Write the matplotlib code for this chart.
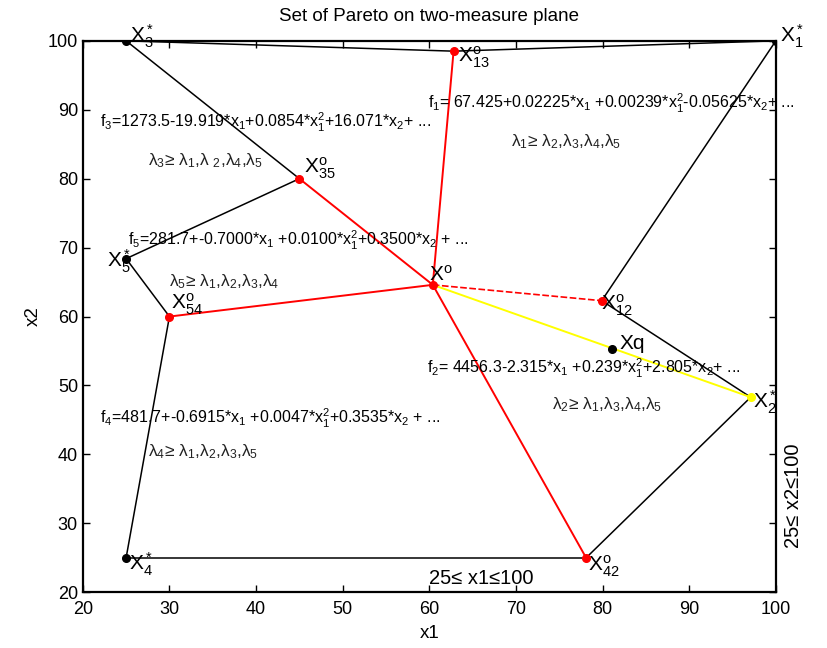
import numpy as np
import matplotlib
matplotlib.use('Agg')
import matplotlib.pyplot as plt

plt.rcParams['font.family'] = ['Liberation Sans', 'DejaVu Sans']
plt.rcParams['mathtext.fontset'] = 'custom'
plt.rcParams['mathtext.rm'] = 'Liberation Sans'
plt.rcParams['mathtext.it'] = 'Liberation Sans'
plt.rcParams['mathtext.default'] = 'regular'

# points
names = ['X3*', 'X13o', 'X1*', 'X35o', 'Xo', 'X5*', 'X54o', 'X12o', 'Xq', 'X2*', 'X4*', 'X42o']
px = [25, 62.8, 100, 45, 60.4, 25, 30, 79.9, 81.1, 97.1, 25, 78.1]
py = [100, 98.5, 100, 80, 64.6, 68.4, 60, 62.3, 55.3, 48.3, 25, 25]
P = dict(zip(names, zip(px, py)))

black_edges = [('X3*', 'X13o'), ('X13o', 'X1*'), ('X3*', 'X35o'), ('X35o', 'X5*'),
               ('X5*', 'X54o'), ('X54o', 'X4*'), ('X4*', 'X42o'), ('X42o', 'X2*'),
               ('X2*', 'X12o'), ('X12o', 'X1*')]
red_edges = [('Xo', 'X13o'), ('Xo', 'X35o'), ('Xo', 'X54o'), ('Xo', 'X42o')]
red_dash = [('Xo', 'X12o')]
yellow_edges = [('Xo', 'X2*')]

red_pts = ['X13o', 'X35o', 'Xo', 'X54o', 'X12o', 'X42o']
black_pts = ['X3*', 'X1*', 'X5*', 'X4*', 'Xq']
yellow_pts = ['X2*']

labels = {
    'X3*': (r'X$_3^*$', 0.4, -1.3),
    'X13o': (r'X$_{13}^o$', 0.5, -2.7),
    'X1*': (r'X$_1^*$', 0.5, -1.4),
    'X35o': (r'X$_{35}^o$', 0.5, -0.4),
    'Xo': (r'X$^o$', -0.4, 0.0),
    'X5*': (r'X$_5^*$', -2.2, -2.4),
    'X54o': (r'X$_{54}^o$', 0.2, 0.0),
    'X12o': (r'X$_{12}^o$', -0.1, -2.5),
    'Xq': ('Xq', 0.9, -0.6),
    'X2*': (r'X$_2^*$', 0.3, -2.7),
    'X4*': (r'X$_4^*$', 0.3, -3.0),
    'X42o': (r'X$_{42}^o$', 0.2, -3.1),
}

eqs = [
    (22.0, 86.5, r'f$_3$=1273.5-19.919*x$_1$+0.0854*x$_1^2$+16.071*x$_2$+ ...'),
    (59.9, 89.2, r'f$_1$= 67.425+0.02225*x$_1$ +0.00239*x$_1^2$-0.05625*x$_2$+ ...'),
    (25.2, 69.3, r'f$_5$=281.7+-0.7000*x$_1$ +0.0100*x$_1^2$+0.3500*x$_2$ + ...'),
    (59.7, 50.8, r'f$_2$= 4456.3-2.315*x$_1$ +0.239*x$_1^2$+2.805*x$_2$+ ...'),
    (22.0, 43.6, r'f$_4$=481.7+-0.6915*x$_1$ +0.0047*x$_1^2$+0.3535*x$_2$ + ...'),
]
lams = [
    (27.5, 81.3, r'λ$_3$≥ λ$_1$,λ $_2$,λ$_4$,λ$_5$'),
    (69.4, 84.0, r'λ$_1$≥ λ$_2$,λ$_3$,λ$_4$,λ$_5$'),
    (30.0, 63.7, r'λ$_5$≥ λ$_1$,λ$_2$,λ$_3$,λ$_4$'),
    (74.2, 45.8, r'λ$_2$≥ λ$_1$,λ$_3$,λ$_4$,λ$_5$'),
    (27.5, 39.1, r'λ$_4$≥ λ$_1$,λ$_2$,λ$_3$,λ$_5$'),
]

fig = plt.figure(figsize=(8.28, 6.48), dpi=100)
ax = fig.add_axes([0.1, 0.086, 0.837, 0.851])

def draw(edges, **kw):
    for a, b in edges:
        ax.plot([P[a][0], P[b][0]], [P[a][1], P[b][1]], **kw)

draw(black_edges, color='black', lw=1.1)
draw(red_edges, color='red', lw=1.4)
draw(red_dash, color='red', lw=1.2, ls=(0, (4, 1.5)))
draw(yellow_edges, color='yellow', lw=1.4)

for grp, c in [(red_pts, 'red'), (black_pts, 'black'), (yellow_pts, 'yellow')]:
    ax.plot([P[n][0] for n in grp], [P[n][1] for n in grp], 'o', color=c, ms=5.5, zorder=5)

for n, (t, dx, dy) in labels.items():
    ax.text(P[n][0] + dx, P[n][1] + dy, t, fontsize=15, va='bottom', ha='left')

for x, y, t in eqs:
    ax.text(x, y, t, fontsize=11.5, va='bottom', ha='left')
for x, y, t in lams:
    ax.text(x, y, t, fontsize=12.5, va='bottom', ha='left', color='#222222')

ax.text(60, 20.6, '25≤ x1≤100', fontsize=14.5, va='bottom', ha='left')
ax.text(101.0, 34, '25≤ x2≤100', fontsize=14.5, rotation=90, va='center', ha='left')

ax.set_xlim(20, 100)
ax.set_ylim(20, 100)
ax.set_xticks(np.arange(20, 101, 10))
ax.set_yticks(np.arange(20, 101, 10))
ax.tick_params(direction='in', top=True, right=True, labelsize=13, width=1, length=5)
ax.tick_params(axis='x', pad=6)
for s in ax.spines.values():
    s.set_linewidth(1.6)
ax.set_xlabel('x1', fontsize=13.5, labelpad=5)
ax.set_ylabel('x2', fontsize=13.5)
ax.set_title('Set of Pareto on two-measure plane', fontsize=13.5, pad=14)

plt.savefig('out.png')
